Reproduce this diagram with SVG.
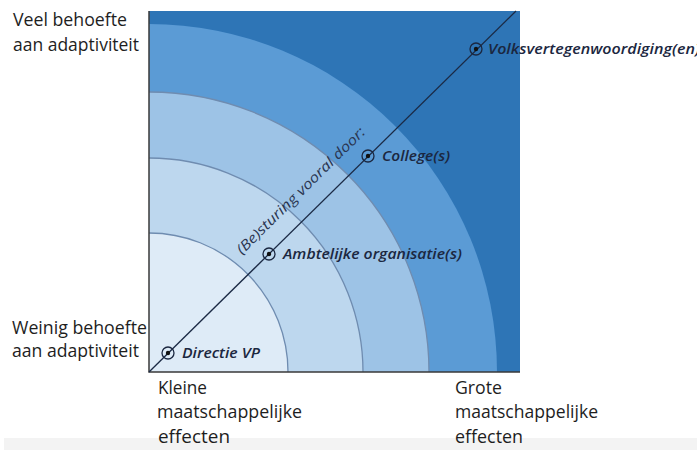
<svg xmlns="http://www.w3.org/2000/svg" width="697" height="450" viewBox="0 0 697 450">
<defs>
<style>
.lbl{font-family:"Open Sans","Liberation Sans",sans-serif;font-size:18px;fill:#1e1e1e}
.it{font-family:"Open Sans","Liberation Sans",sans-serif;font-size:14px;font-style:italic;font-weight:600;fill:#1b2740}
.arc{fill:none;stroke:#6f8cb0;stroke-width:1.3}
.mk{fill:none;stroke:#1b2740;stroke-width:1.3}
.dot{fill:#111}
</style>
</defs>
<rect width="697" height="450" fill="#ffffff"/>
<rect x="4" y="438" width="693" height="12" fill="#f3f3f3"/>
<g id="bands">
<rect x="149" y="11" width="371" height="361" fill="#2e75b6"/>
<path d="M149,372 L149,24 A348,348 0 0 1 497,372 Z" fill="#5b9bd5"/>
<path d="M149,372 L149,92 A280,280 0 0 1 429,372 Z" fill="#9dc3e6"/>
<path d="M149,372 L149,158 A214,214 0 0 1 363,372 Z" fill="#bdd7ee"/>
<path d="M149,372 L149,233 A139,139 0 0 1 288,372 Z" fill="#deebf7"/>
<path class="arc" d="M149,92 A280,280 0 0 1 429,372"/>
<path class="arc" d="M149,158 A214,214 0 0 1 363,372"/>
<path class="arc" d="M149,233 A139,139 0 0 1 288,372"/>
</g>
<g id="axes">
<path d="M149,11 L149,372 L520,372" fill="none" stroke="#3a3a3a" stroke-width="1.5"/>
</g>
<g id="connectors">
<line x1="149" y1="372" x2="516" y2="11" stroke="#1b2a45" stroke-width="1.3"/>
</g>
<g id="besturing">
<text class="it" x="242" y="255" transform="rotate(-44.5 242 255)" textLength="174" lengthAdjust="spacingAndGlyphs" style="font-weight:400;fill:#2a3550">(Be)sturing vooral door:</text>
</g>
<g id="directie">
<circle class="mk" cx="168" cy="353" r="6"/><circle class="dot" cx="168" cy="353" r="2.2"/>
<text class="it" x="182" y="358" textLength="78" lengthAdjust="spacingAndGlyphs">Directie VP</text>
</g>
<g id="ambtelijk">
<circle class="mk" cx="269" cy="254" r="6"/><circle class="dot" cx="269" cy="254" r="2.2"/>
<text class="it" x="283" y="259" textLength="179" lengthAdjust="spacingAndGlyphs">Ambtelijke organisatie(s)</text>
</g>
<g id="college">
<circle class="mk" cx="368" cy="156" r="6"/><circle class="dot" cx="368" cy="156" r="2.2"/>
<text class="it" x="382" y="161" textLength="68" lengthAdjust="spacingAndGlyphs">College(s)</text>
</g>
<g id="volks">
<circle class="mk" cx="476" cy="49" r="6"/><circle class="dot" cx="476" cy="49" r="2.2"/>
<text class="it" x="488" y="54" textLength="212" lengthAdjust="spacingAndGlyphs">Volksvertegenwoordiging(en)</text>
</g>
<g id="label-veel">
<text class="lbl" x="13" y="26" textLength="114" lengthAdjust="spacingAndGlyphs">Veel behoefte</text>
<text class="lbl" x="13" y="51" textLength="126" lengthAdjust="spacingAndGlyphs">aan adaptiviteit</text>
</g>
<g id="label-weinig">
<text class="lbl" x="12" y="334" textLength="135" lengthAdjust="spacingAndGlyphs">Weinig behoefte</text>
<text class="lbl" x="12" y="357" textLength="127" lengthAdjust="spacingAndGlyphs">aan adaptiviteit</text>
</g>
<g id="label-kleine">
<text class="lbl" x="158" y="394" textLength="49" lengthAdjust="spacingAndGlyphs">Kleine</text>
<text class="lbl" x="157" y="418" textLength="145" lengthAdjust="spacingAndGlyphs">maatschappelijke</text>
<text class="lbl" x="158" y="443" textLength="72" lengthAdjust="spacingAndGlyphs">effecten</text>
</g>
<g id="label-grote">
<text class="lbl" x="455" y="394" textLength="47" lengthAdjust="spacingAndGlyphs">Grote</text>
<text class="lbl" x="455" y="418" textLength="143" lengthAdjust="spacingAndGlyphs">maatschappelijke</text>
<text class="lbl" x="455" y="443" textLength="68" lengthAdjust="spacingAndGlyphs">effecten</text>
</g>
</svg>
